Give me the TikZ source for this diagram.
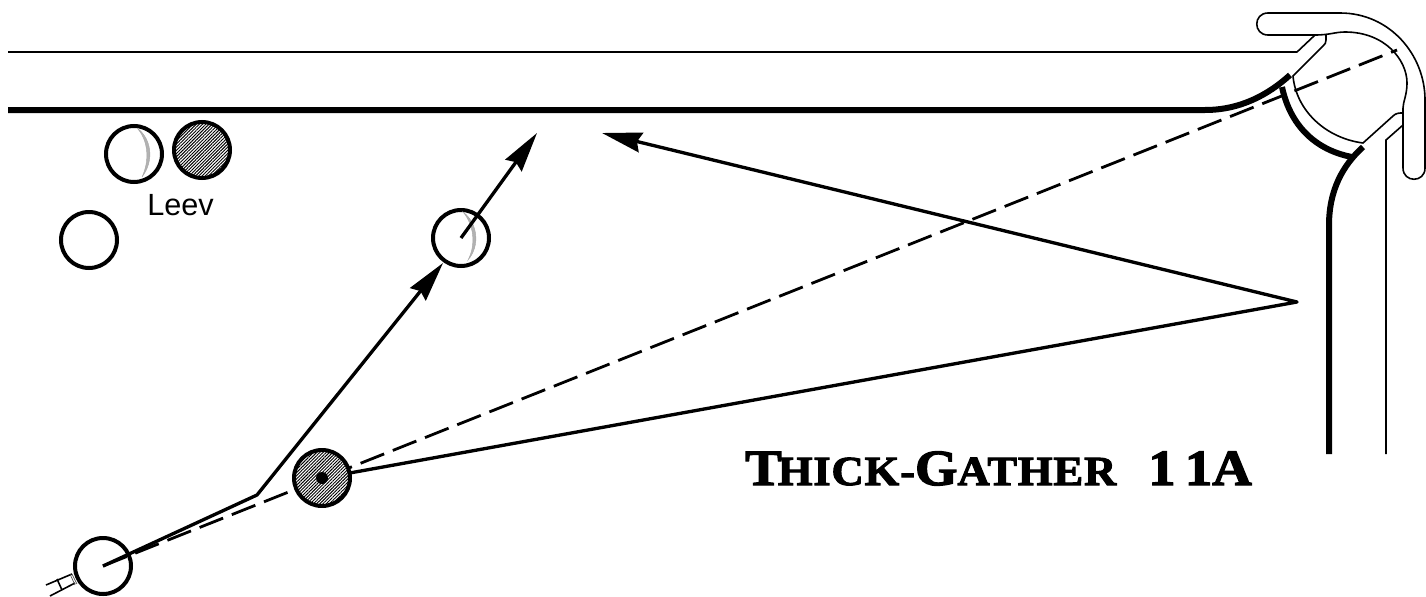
\documentclass[tikz,border=0pt]{standalone}
\usepackage{fontspec}
\setmainfont{Liberation Sans}
\newfontfamily\titlefont[FakeBold=2.5,FakeStretch=1.08,LetterSpace=2]{Liberation Serif Bold}
\usetikzlibrary{arrows.meta,patterns.meta}
\tikzset{
  thinl/.style={line width=1.2pt,black},
  thickl/.style={line width=4.5pt,black},
  dashl/.style={line width=2.1pt,black,dash pattern=on 19pt off 7pt},
  arrowl/.style={line width=2.5pt,black,line join=round,-{Stealth[length=30pt,width=15pt,inset=3pt]}},
  ball/.style={circle,draw=black,line width=3pt,minimum size=42pt,inner sep=0pt},
  hatchball/.style={ball,preaction={fill=white},pattern={Lines[angle=45,distance=1.7pt,line width=0.72pt]},pattern color=black},
  crescent/.style={draw=black!35,line width=.3pt,fill=black!30}
}
\newcommand{\bigs}{\fontsize{38pt}{40pt}\selectfont}
\newcommand{\smalls}{\fontsize{31pt}{40pt}\selectfont}
\begin{document}
\begin{tikzpicture}[x=0.75pt,y=-0.75pt]
\useasboundingbox (0,0) rectangle (1426,596);
% positions
\coordinate (cue) at (103,566);
\coordinate (bend) at (257,495);
\coordinate (apex) at (1297,302);
\coordinate (farend) at (1397,50);
\coordinate (tipA) at (537,133);
\coordinate (tipB) at (602,133);
\coordinate (ghostin) at (443,263);
% rail outlines
\draw[thinl,line join=round] (8,52) -- (1297,52) -- (1315,35) -- (1268,35)
  .. controls (1253,35) and (1253,13) .. (1268,13) -- (1340,13)
  .. controls (1390,13) and (1425,55) .. (1425,100) -- (1425,168)
  .. controls (1425,183) and (1403,183) .. (1403,168) -- (1403,108)
  .. controls (1403,102) and (1407,95) .. (1407,83)
  .. controls (1407,60) and (1385,32) .. (1345,32)
  .. controls (1335,32) and (1330,35) .. (1315,35);
\draw[thinl] (1326,35) -- (1326,40) .. controls (1326,43) and (1325,44) .. (1323,46) -- (1293,76)
  .. controls (1296,110) and (1325,138) .. (1363,143) -- (1393,116)
  .. controls (1396,113) and (1399,113) .. (1403,113);
\draw[thinl] (1403,125) -- (1386,140) -- (1386,454);
% cushions
\draw[thickl] (8,110) -- (1205,110) .. controls (1240,110) and (1268,95) .. (1290,75);
\draw[thickl] (1282,87) .. controls (1290,125) and (1315,150) .. (1352,157);
\draw[thickl] (1363,147) .. controls (1343,165) and (1329,190) .. (1329,225) -- (1329,454);
% cue stick
\draw[thinl] (46,585) -- (72,574) (50,596) -- (75,583) (57,579) -- (62,590);
\draw[line width=.5pt,black!70] (70,574) -- (75,585) (72,574) -- (77,584) (74,573) -- (79,583);
% balls
\node[ball] (leevA) at (134,154) {};
\node[ball] (leevC) at (89,240) {};
\node[ball] (ghost) at (461,238) {};
\node[ball] (cueball) at (103,566) {};
% crescents
\draw[crescent] (137,128) .. controls (151,138) and (155,160) .. (142,177)
  .. controls (150,160) and (148,140) .. (137,128) -- cycle;
\draw[crescent] (463,212) .. controls (477,222) and (481,245) .. (468,260)
  .. controls (476,245) and (474,225) .. (463,212) -- cycle;
% shot lines
\draw[dashl] (cue) -- (farend);
\draw[arrowl] (322,478) -- (apex) -- (tipB);
\draw[arrowl] (cueball.center) -- (bend) -- (ghostin);
\draw[arrowl] (ghost.center) -- (tipA);
% object ball
\node[hatchball] (leevB) at (202,150) {};
\node[hatchball] (obj) at (322,478) {};
\node[circle,fill=black,minimum size=9pt,inner sep=0pt] (objdot) at (obj.center) {};
% labels
\node[anchor=base west,inner sep=0pt,font=\fontsize{23pt}{26pt}\selectfont] (leevlabel) at (147,215) {Leev};
\node[anchor=base west,inner sep=0pt] (title) at (745,485)
  {\titlefont\bigs T\kern-3pt\smalls HICK-\bigs G\smalls ATHER\hspace{24pt}\bigs 1\kern7pt 1\kern0pt A};
\end{tikzpicture}
\end{document}
